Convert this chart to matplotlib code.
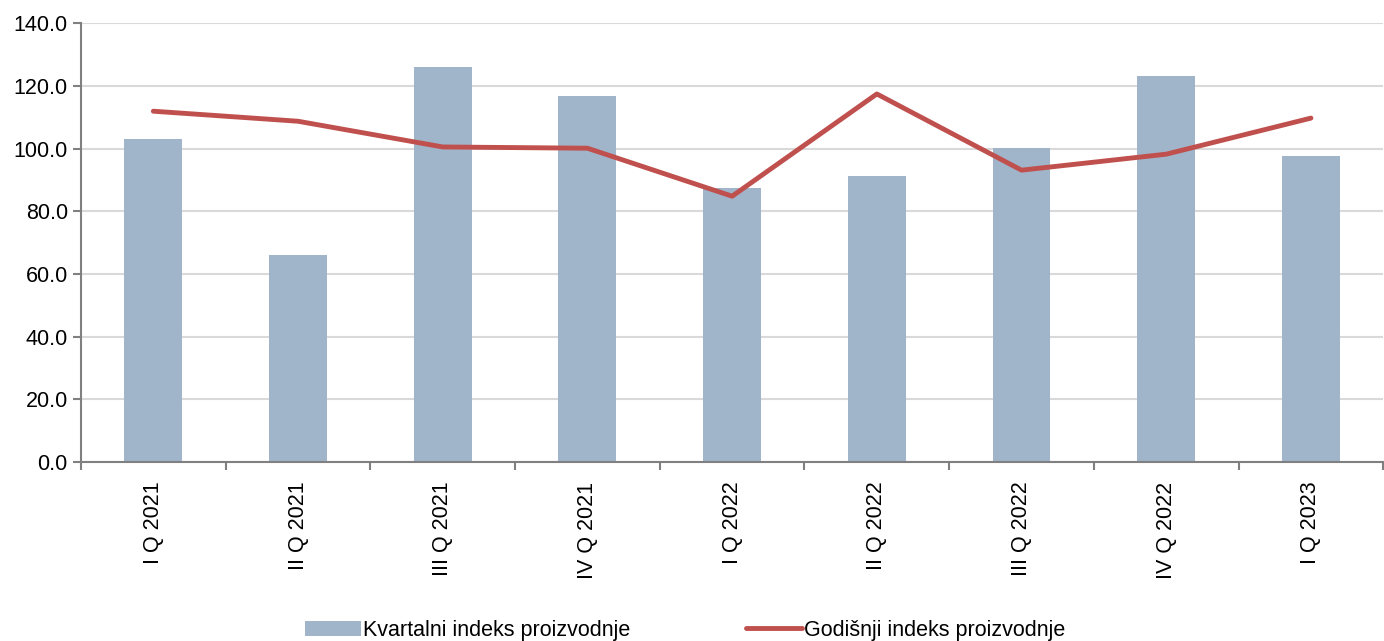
import matplotlib.pyplot as plt
import numpy as np

plt.rcParams['font.family'] = ['Liberation Sans', 'DejaVu Sans']

quarters = ["I Q 2021", "II Q 2021", "III Q 2021", "IV Q 2021", "I Q 2022",
            "II Q 2022", "III Q 2022", "IV Q 2022", "I Q 2023"]
kvartalni = [103.0, 66.0, 126.0, 116.7, 87.4, 91.2, 100.1, 123.1, 97.6]
godisnji = [111.9, 108.7, 100.5, 100.1, 84.8, 117.4, 93.1, 98.2, 109.7]

fig = plt.figure(figsize=(13.84, 6.41), dpi=100)
ax = fig.add_axes([0.0585, 0.279, 0.941, 0.685])

x = np.arange(len(quarters))
bars = ax.bar(x, kvartalni, width=0.4, color='#A0B4CA', label='Kvartalni indeks proizvodnje', zorder=2)
line, = ax.plot(x, godisnji, color='#C0504D', linewidth=3.5, label='Godišnji indeks proizvodnje',
                zorder=3, solid_capstyle='round')

ax.set_xlim(-0.5, len(quarters) - 0.5)
ax.set_ylim(0, 140)
ax.set_yticks(np.arange(0, 141, 20))
ax.set_yticklabels([f"{v:.1f}" for v in np.arange(0, 141, 20)], fontsize=15.5)
ax.yaxis.grid(True, color='#D9D9D9', linewidth=1.5, zorder=0)

ax.set_xticks(x)
ax.set_xticklabels(quarters, rotation=90, fontsize=15.5)
ax.tick_params(axis='x', length=0, pad=14)
ax.set_xticks(np.arange(-0.5, len(quarters), 1), minor=True)
ax.tick_params(axis='x', which='minor', length=6, color='#808080', width=1.5)
ax.tick_params(axis='y', length=6, color='#808080', width=1.5)

for s in ['top', 'right']:
    ax.spines[s].set_visible(False)
for s in ['left', 'bottom']:
    ax.spines[s].set_color('#808080')
    ax.spines[s].set_linewidth(1.5)

fig.legend([bars, line], ['Kvartalni indeks proizvodnje', 'Godišnji indeks proizvodnje'],
           loc='lower center', bbox_to_anchor=(0.495, -0.03), ncol=2, frameon=False,
           fontsize=15.5, handlelength=2.6, handletextpad=0.1, columnspacing=5.4)

fig.savefig('out.png', dpi=100)
